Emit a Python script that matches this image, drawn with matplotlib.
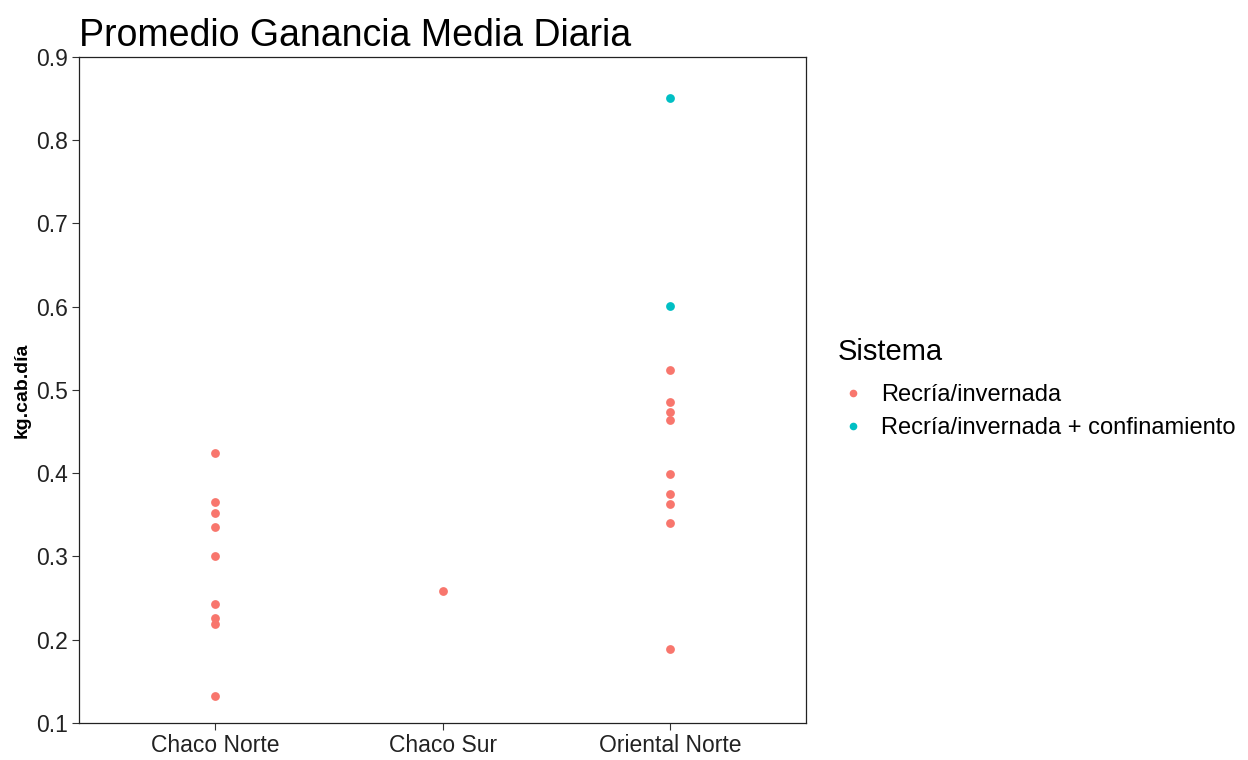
import matplotlib
matplotlib.use("Agg")
from matplotlib import pyplot as plt

plt.rcParams['font.family'] = ['Liberation Sans', 'DejaVu Sans']

# datos
regiones = ['Chaco Norte', 'Chaco Sur', 'Oriental Norte']
sistemas = ['Recría/invernada', 'Recría/invernada + confinamiento']
colores = ['#F8766D', '#00BFC4']

chaco_norte = [0.424, 0.365, 0.352, 0.335, 0.301, 0.243, 0.226, 0.219, 0.133]
chaco_sur = [0.259]
oriental_norte = [0.524, 0.486, 0.473, 0.464, 0.399, 0.375, 0.363, 0.340, 0.189]
oriental_norte_conf = [0.851, 0.601]

fig = plt.figure(figsize=(12.48, 7.6), dpi=100)
ax = fig.add_axes([0.0633, 0.0487, 0.5827, 0.8763])

grupos = [(0, chaco_norte, 0), (1, chaco_sur, 0), (2, oriental_norte, 0), (2, oriental_norte_conf, 1)]
for i, vals, s in grupos:
    ax.scatter([i] * len(vals), vals, s=40, color=colores[s], linewidths=0, zorder=3)

ax.set_xlim(-0.6, 2.6)
ax.set_ylim(0.1, 0.9)
ax.set_xticks(range(len(regiones)))
ax.set_xticklabels(regiones)
ax.set_yticks([0.1, 0.2, 0.3, 0.4, 0.5, 0.6, 0.7, 0.8, 0.9])
ax.tick_params(axis='both', which='major', labelsize=16.5, length=5, width=0.8,
               colors='#333333', labelcolor='#222222', pad=3)
for sp in ax.spines.values():
    sp.set_linewidth(0.9)
    sp.set_color('#222222')

ax.set_ylabel('kg.cab.día', fontsize=14, fontweight='bold', labelpad=4)
ax.set_title('Promedio Ganancia Media Diaria', fontsize=27, loc='left', pad=8, x=0.0)

# leyenda
fig.text(0.671, 0.537, 'Sistema', fontsize=21, ha='left', va='center')
handles = [plt.Line2D([], [], marker='o', linestyle='', markersize=5.5,
                      markerfacecolor=c, markeredgewidth=0) for c in colores]
leg = fig.legend(handles, sistemas, loc='center left',
                 bbox_to_anchor=(0.657, 0.4586), frameon=False, fontsize=17,
                 handletextpad=0.7, labelspacing=0.47, handlelength=1.0)

fig.savefig('out.png', dpi=100)
